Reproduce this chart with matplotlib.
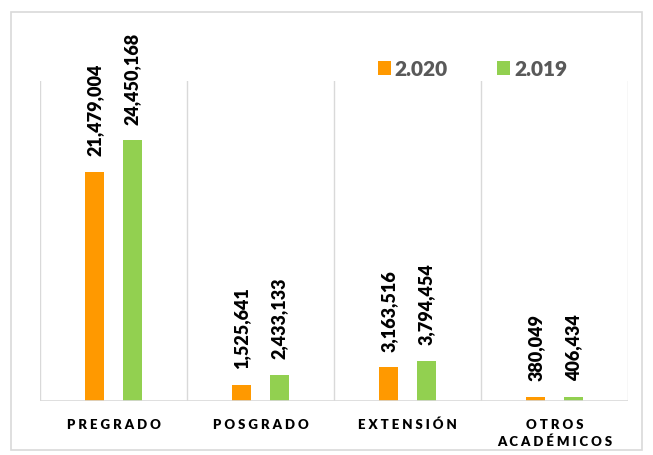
import matplotlib.pyplot as plt
import numpy as np
from matplotlib.patches import FancyBboxPatch

plt.rcParams['font.family'] = ['Lato', 'DejaVu Sans']

categories = ['P R E G R A D O', 'P O S G R A D O', 'E X T E N S I Ó N', 'O T R O S\nA C A D É M I C O S']
valores_2020 = [21479004, 1525641, 3163516, 380049]
valores_2019 = [24450168, 2433133, 3794454, 406434]
series_labels = ['2.020', '2.019']
color_2020 = '#FF9900'
color_2019 = '#92D050'

fig = plt.figure(figsize=(6.53, 4.56), dpi=100)
# marco exterior
fig.patches.append(FancyBboxPatch((0.017, 0.01), 0.966, 0.962, boxstyle='square,pad=0',
                                  transform=fig.transFigure, fill=False,
                                  edgecolor='#D9D9D9', linewidth=1.2))

ax = fig.add_axes([40 / 653, 1 - 402 / 456, 588 / 653, 320 / 456])
x = np.arange(len(categories))
w = 0.13
off = 0.127

b1 = ax.bar(x - off, valores_2020, w, color=color_2020, label=series_labels[0])
b2 = ax.bar(x + off, valores_2019, w, color=color_2019, label=series_labels[1])

for bars in (b1, b2):
    for rect in bars:
        v = rect.get_height()
        ax.annotate(f'{v:,.0f}', (rect.get_x() + rect.get_width() / 2, v),
                    xytext=(0, 12), textcoords='offset points', rotation=90,
                    ha='center', va='bottom', fontsize=13, fontweight='heavy',
                    color='black', annotation_clip=False)

ax.set_xlim(-0.5, len(categories) - 0.5)
ax.set_ylim(0, 30000000)
ax.set_yticks([])
ax.set_xticks(x)
ax.set_xticklabels(categories, fontsize=9.5, fontweight='heavy', linespacing=1.5)
ax.tick_params(axis='x', length=0, pad=12)

for b in np.arange(-0.5, len(categories), 1):
    ax.axvline(b, color='#D9D9D9', linewidth=1)
for s in ax.spines.values():
    s.set_visible(False)
ax.axhline(0, color='#D9D9D9', linewidth=1.2)

leg = fig.legend(loc='center left', bbox_to_anchor=(359 / 653, 1 - 70 / 456), ncol=2,
                 frameon=False, prop={'size': 15, 'weight': 'heavy'},
                 handlelength=0.62, handleheight=0.62, columnspacing=2.35, handletextpad=0.2)
for t in leg.get_texts():
    t.set_color('#595959')

fig.savefig('out.png', dpi=100)
